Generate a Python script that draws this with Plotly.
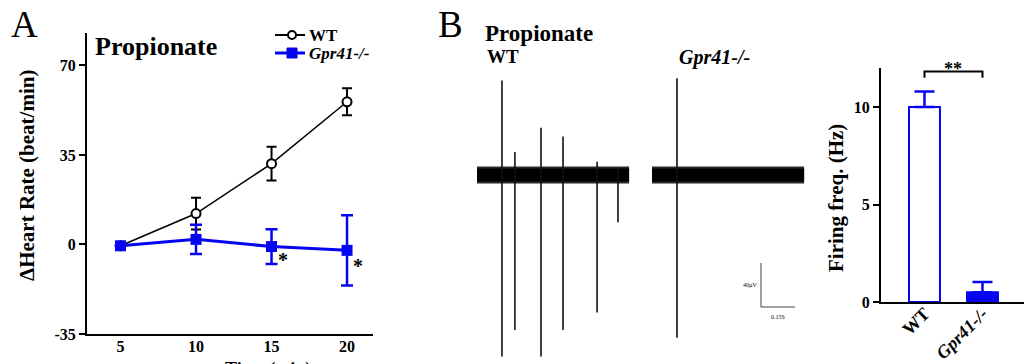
import plotly.graph_objects as go

W, H = 1024, 364
FONT = "Liberation Serif"
BLUE = "#0505f0"

# ---------------- Panel A data ----------------
time_min = [5, 10, 15, 20]
wt_hr = [-0.5, 12.1, 31.6, 55.8]
wt_err = [0.0, 6.2, 6.6, 5.3]
ko_hr = [-0.5, 2.0, -0.8, -2.3]
ko_err = [0.0, 5.7, 6.8, 13.7]
a_yticks = [-35, 0, 35, 70]
a_yticktext = ["-35", "0", "35", "70"]
a_xticks = [5, 10, 15, 20]

# ---------------- Panel B data (s, µV) ----------------
trace_duration = 0.67
ko_offset = 0.771
wt_spike_t = [0.110, 0.167, 0.282, 0.379, 0.529, 0.621]
wt_spike_top = [86, 21, 43, 35, 12, 6]
wt_spike_bottom = [-165, -141, -165, -141, -125, -43]
ko_spike_t = [0.110]
ko_spike_top = [88]
ko_spike_bottom = [-148]
scalebar_t0 = 1.251
scalebar_dt = 0.15
scalebar_v0 = -120
scalebar_dv = 40

# ---------------- Panel C data ----------------
groups = ["WT", "<i>Gpr41-/-</i>"]
freq = [10.0, 0.5]
freq_err = [0.8, 0.53]
c_yticks = [0, 5, 10]


def px(x):
    return x / W


def py(y):
    return 1 - y / H


fig = go.Figure()

# Panel A
fig.add_trace(go.Scatter(
    x=time_min, y=wt_hr, name="WT", mode="lines+markers",
    line=dict(color="black", width=1.5),
    marker=dict(symbol="circle", size=9, color="white", line=dict(color="black", width=2)),
    error_y=dict(type="data", array=wt_err, color="black", thickness=2, width=5),
    xaxis="x", yaxis="y", cliponaxis=False, showlegend=False,
))
fig.add_trace(go.Scatter(
    x=time_min, y=ko_hr, name="<i>Gpr41-/-</i>", mode="lines+markers",
    line=dict(color=BLUE, width=3),
    marker=dict(symbol="square", size=11, color=BLUE),
    error_y=dict(type="data", array=ko_err, color=BLUE, thickness=2.5, width=6),
    xaxis="x", yaxis="y", cliponaxis=False, showlegend=False,
))

# Panel B traces: noise band (fuzzy edge + solid core)
for start in (0, ko_offset):
    fig.add_trace(go.Scatter(
        x=[start, start + trace_duration], y=[0, 0], mode="lines",
        line=dict(color="#2a2a2a", width=17), showlegend=False, xaxis="x2", yaxis="y2",
    ))
    fig.add_trace(go.Scatter(
        x=[start, start + trace_duration], y=[0, 0], mode="lines",
        line=dict(color="black", width=13), showlegend=False, xaxis="x2", yaxis="y2",
    ))
sx, sy = [], []
for t, top, bot in zip(wt_spike_t, wt_spike_top, wt_spike_bottom):
    sx += [t, t, None]
    sy += [top, bot, None]
for t, top, bot in zip(ko_spike_t, ko_spike_top, ko_spike_bottom):
    sx += [ko_offset + t, ko_offset + t, None]
    sy += [top, bot, None]
fig.add_trace(go.Scatter(
    x=sx, y=sy, mode="lines", line=dict(color="#111111", width=1.6),
    showlegend=False, xaxis="x2", yaxis="y2",
))
fig.add_trace(go.Scatter(
    x=[scalebar_t0, scalebar_t0, scalebar_t0 + scalebar_dt],
    y=[scalebar_v0 + scalebar_dv, scalebar_v0, scalebar_v0],
    mode="lines", line=dict(color="#444444", width=1),
    showlegend=False, xaxis="x2", yaxis="y2",
))

# Panel C
fig.add_trace(go.Bar(
    x=[0, 1], y=freq, width=0.534,
    marker=dict(color=["white", BLUE], line=dict(color=BLUE, width=2)),
    error_y=dict(type="data", array=freq_err, arrayminus=[0, 0], symmetric=False,
                 color=BLUE, thickness=2.5, width=10),
    showlegend=False, xaxis="x3", yaxis="y3",
))

tickfont = dict(family=FONT, size=16, color="black", weight="bold")

fig.update_layout(
    width=W, height=H, autosize=False, margin=dict(l=0, r=0, t=0, b=0, autoexpand=False),
    paper_bgcolor="white", plot_bgcolor="white",
    font=dict(family=FONT, color="black"),
    showlegend=False,
    xaxis=dict(domain=[px(87), px(373)], range=[2.78, 21.72], tickvals=a_xticks,
               showline=True, linewidth=2, linecolor="black", ticks="", automargin=False,
               ticklabelstandoff=-3,
               showgrid=False, zeroline=False, tickfont=tickfont, anchor="y"),
    yaxis=dict(domain=[py(334), py(33)], range=[-35, 82.7], tickvals=a_yticks,
               ticktext=a_yticktext, automargin=False,
               showline=True, linewidth=2, linecolor="black", ticks="outside",
               ticklen=6, tickwidth=2, tickcolor="black",
               showgrid=False, zeroline=False, tickfont=tickfont, anchor="x"),
    xaxis2=dict(domain=[px(477), px(820)], range=[0, 1.511], visible=False, anchor="y2",
                automargin=False),
    yaxis2=dict(domain=[0, 1], range=[-171.8, 159.1], visible=False, anchor="x2",
                automargin=False),
    xaxis3=dict(domain=[px(881), 1], range=[-0.75, 1.716], tickvals=[0, 1], ticktext=groups,
                tickangle=-45, showline=True, linewidth=2, linecolor="black", ticks="",
                showgrid=False, zeroline=False, automargin=False, ticklabelstandoff=-8,
                tickfont=dict(family=FONT, size=18, color="black", weight="bold"),
                anchor="y3"),
    yaxis3=dict(domain=[py(302), py(68)], range=[0, 12], tickvals=c_yticks,
                showline=True, linewidth=2, linecolor="black", ticks="outside",
                ticklen=6, tickwidth=2, tickcolor="black", automargin=False,
                showgrid=False, zeroline=False, tickfont=tickfont, anchor="x3"),
)

# significance bracket
fig.add_shape(type="path", path="M0,11.5 L0,11.82 L1,11.82 L1,11.5",
              xref="x3", yref="y3", line=dict(color="black", width=2))

# manual legend for panel A
fig.add_shape(type="line", x0=px(275), x1=px(305), y0=py(35), y1=py(35),
              xref="paper", yref="paper", line=dict(color="black", width=2))
fig.add_shape(type="circle", x0=px(288), x1=px(296), y0=py(39), y1=py(31),
              xref="paper", yref="paper", fillcolor="white", line=dict(color="black", width=2))
fig.add_shape(type="line", x0=px(275), x1=px(305), y0=py(53), y1=py(53),
              xref="paper", yref="paper", line=dict(color=BLUE, width=3))
fig.add_shape(type="rect", x0=px(287), x1=px(297), y0=py(58), y1=py(48),
              xref="paper", yref="paper", fillcolor=BLUE, line=dict(color=BLUE, width=1))


def add_text(text, x, y, size, bold=False, italic=False, xanchor="center", yanchor="middle",
             angle=0, xref="paper", yref="paper", color="black"):
    t = f"<i>{text}</i>" if italic else text
    fig.add_annotation(text=t, x=x, y=y, xref=xref, yref=yref, showarrow=False,
                       xanchor=xanchor, yanchor=yanchor, textangle=angle,
                       font=dict(family=FONT, size=size, color=color,
                                 weight="bold" if bold else "normal"))


add_text("WT", px(307), py(35), 17, bold=True, xanchor="left")
add_text("Gpr41-/-", px(307), py(53), 17, bold=True, italic=True, xanchor="left")
add_text("A", px(24), py(25), 37)
add_text("B", px(450), py(25), 37)
add_text("Propionate", px(93), py(47), 26, bold=True, xanchor="left")
add_text("Propionate", px(483), py(33), 23, bold=True, xanchor="left")
add_text("WT", px(485), py(56), 19, bold=True, xanchor="left")
add_text("Gpr41-/-", px(677), py(57), 20, bold=True, italic=True, xanchor="left")
add_text("ΔHeart Rate (beat/min)", px(27), py(176), 21, bold=True, angle=-90)
add_text("Firing freq. (Hz)", px(836), py(198), 21, bold=True, angle=-90)
add_text("Time (min)", px(268), py(369), 18, bold=True)
add_text("*", 15.75, -6, 20, bold=True, xref="x", yref="y")
add_text("*", 20.7, -8.5, 20, bold=True, xref="x", yref="y")
add_text("**", 0.5, 11.95, 18, bold=True, xref="x3", yref="y3")
add_text("40µV", scalebar_t0 - 0.05, scalebar_v0 + 0.5 * scalebar_dv, 6, xref="x2", yref="y2")
add_text("0.15S", scalebar_t0 + 0.075, scalebar_v0 - 9, 6, xref="x2", yref="y2")

fig.write_html("out.html",
               config={"responsive": False, "displayModeBar": False},
               post_script="document.body.style.margin='0';document.body.style.overflow='hidden';")
